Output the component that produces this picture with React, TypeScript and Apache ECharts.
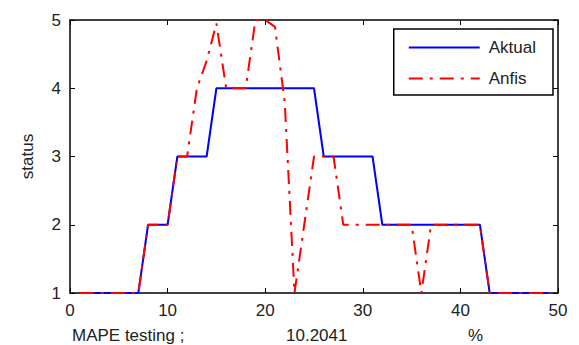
import React, { useEffect, useRef } from "react";
import * as echarts from "echarts";

const xValues = [1,2,3,4,5,6,7,8,9,10,11,12,13,14,15,16,17,18,19,20,21,22,23,24,25,26,27,28,29,30,31,32,33,34,35,36,37,38,39,40,41,42,43,44,45,46,47,48,49];
const aktual = [1,1,1,1,1,1,1,2,2,2,3,3,3,3,4,4,4,4,4,4,4,4,4,4,4,3,3,3,3,3,3,2,2,2,2,2,2,2,2,2,2,2,1,1,1,1,1,1,1];
const anfis = [1,1,1,1,1,1,1,2,2,2,3,3,4,4.4,4.95,4,4,4,5,5,4.9,3.8,1,2,3,3,3,2,2,2,2,2,2,2,2,1,2,2,2,2,2,2,1,1,1,1,1,1,1];
const xTicks = { min: 0, max: 50, interval: 10 };
const yTicks = { min: 1, max: 5, interval: 1 };
const seriesNames = ["Aktual", "Anfis"];
const mapeLabel = "MAPE testing ;";
const mapeValue = "10.2041";
const mapeUnit = "%";

const FONT = "Arial, 'Liberation Sans', sans-serif";
const TXT = "#222";

export default function App() {
  const ref = useRef<HTMLDivElement>(null);
  useEffect(() => {
    if (!ref.current) return;
    const chart = echarts.init(ref.current, null, { renderer: "svg" });
    const axisCommon = {
      axisLine: { show: true, onZero: false, lineStyle: { color: "#000", width: 1.5 } },
      axisTick: { show: true, inside: true, length: 5, lineStyle: { color: "#000", width: 1 } },
      splitLine: { show: false },
    };
    chart.setOption({
      animation: false,
      backgroundColor: "#fff",
      grid: { left: 70, right: 21, top: 20, bottom: 52, containLabel: false },
      legend: {
        data: seriesNames,
        orient: "vertical",
        right: 26,
        top: 29,
        padding: [10, 17, 8, 14],
        itemWidth: 71,
        itemHeight: 16,
        itemGap: 14,
        borderColor: "#000",
        borderWidth: 1.5,
        backgroundColor: "#fff",
        itemStyle: { opacity: 0 },
        lineStyle: { opacity: 1 },
        textStyle: { fontSize: 17, fontFamily: FONT, color: TXT, padding: [0, 0, 0, 4] },
      },
      xAxis: [
        {
          type: "value", position: "bottom", ...xTicks, ...axisCommon,
          axisLabel: { fontSize: 17, fontFamily: FONT, color: TXT, margin: 9 },
        },
        {
          type: "value", position: "top", ...xTicks, ...axisCommon,
          axisLabel: { show: false },
        },
      ],
      yAxis: [
        {
          type: "value", position: "left", ...yTicks, ...axisCommon,
          name: "status", nameLocation: "middle", nameGap: 34, nameRotate: 90,
          nameTextStyle: { fontSize: 17, fontFamily: FONT, color: TXT },
          axisLabel: { fontSize: 17, fontFamily: FONT, color: TXT, margin: 9 },
        },
        {
          type: "value", position: "right", ...yTicks, ...axisCommon,
          axisLabel: { show: false },
        },
      ],
      series: [
        {
          name: seriesNames[0], type: "line", xAxisIndex: 0, yAxisIndex: 0,
          data: xValues.map((x, i) => [x, aktual[i]]),
          symbol: "none", color: "#0000ff",
          lineStyle: { color: "#0000ff", width: 2 },
        },
        {
          name: seriesNames[1], type: "line", xAxisIndex: 0, yAxisIndex: 0,
          data: xValues.map((x, i) => [x, anfis[i]]),
          symbol: "none", color: "#ff0000",
          lineStyle: { color: "#ff0000", width: 2, type: [14, 7, 3, 7] },
        },
      ],
      graphic: [
        { type: "text", left: 72, top: 327, style: { text: mapeLabel, fontSize: 17, fontFamily: FONT, fill: TXT } },
        { type: "text", left: 286, top: 327, style: { text: mapeValue, fontSize: 17, fontFamily: FONT, fill: TXT } },
        { type: "text", left: 468, top: 327, style: { text: mapeUnit, fontSize: 17, fontFamily: FONT, fill: TXT } },
      ],
    });
    return () => chart.dispose();
  }, []);
  return <div ref={ref} style={{ width: 579, height: 345, position: "absolute", left: 0, top: 0 }} />;
}
